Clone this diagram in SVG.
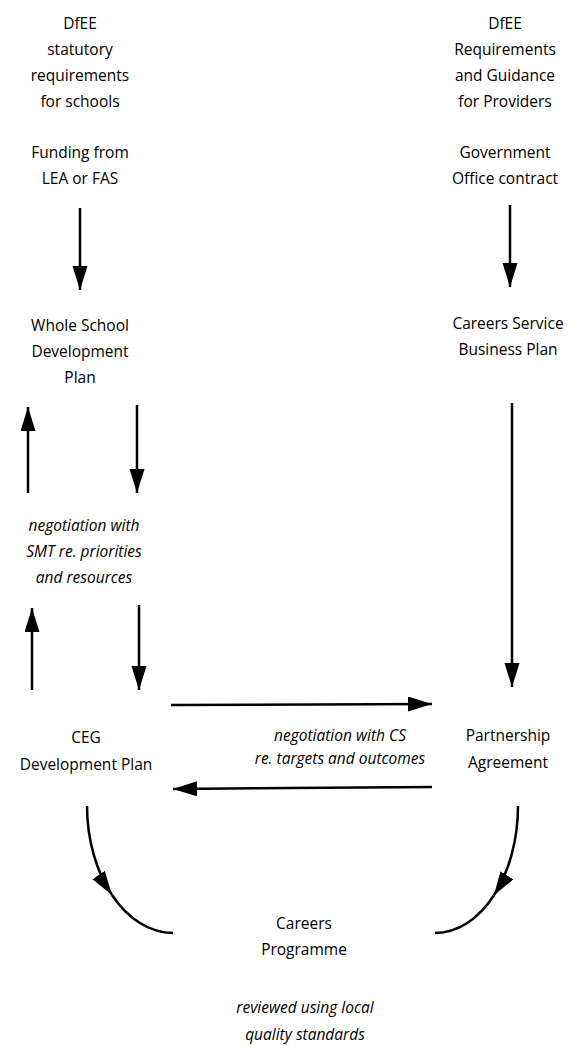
<svg xmlns="http://www.w3.org/2000/svg" width="574" height="1045" viewBox="0 0 574 1045">
<defs>
<marker id="ah" markerUnits="userSpaceOnUse" markerWidth="26" markerHeight="16" refX="24" refY="7.5" orient="auto">
<path d="M0,0 L24,7.5 L0,15 z" fill="#000"/>
</marker>
<style>
text{font-family:"Open Sans","Noto Sans","DejaVu Sans",sans-serif;font-size:15.5px;fill:#000;text-anchor:middle}
.i{font-style:italic}
.c{fill:none;stroke:#000;stroke-width:2.5}
.a{marker-end:url(#ah)}
</style>
</defs>
<rect width="574" height="1045" fill="#fff"/>
<g id="dfee-schools">
<text x="80" y="29">DfEE</text>
<text x="80" y="55">statutory</text>
<text x="80" y="81">requirements</text>
<text x="80" y="107">for schools</text>
</g>
<g id="funding">
<text x="80" y="158">Funding from</text>
<text x="80" y="184">LEA or FAS</text>
</g>
<g id="dfee-providers">
<text x="505" y="29">DfEE</text>
<text x="505" y="55">Requirements</text>
<text x="505" y="81">and Guidance</text>
<text x="505" y="107">for Providers</text>
</g>
<g id="government">
<text x="505" y="158">Government</text>
<text x="505" y="184">Office contract</text>
</g>
<g id="whole-school">
<text x="80" y="331">Whole School</text>
<text x="80" y="357">Development</text>
<text x="80" y="383">Plan</text>
</g>
<g id="cs-business">
<text x="508" y="329">Careers Service</text>
<text x="508" y="355">Business Plan</text>
</g>
<g id="smt-negotiation">
<text class="i" x="84" y="531">negotiation with</text>
<text class="i" x="84" y="557">SMT re. priorities</text>
<text class="i" x="84" y="583">and resources</text>
</g>
<g id="ceg">
<text x="86" y="743">CEG</text>
<text x="86" y="770">Development Plan</text>
</g>
<g id="cs-negotiation">
<text class="i" x="340" y="741">negotiation with CS</text>
<text class="i" x="340" y="764">re. targets and outcomes</text>
</g>
<g id="partnership">
<text x="508" y="741">Partnership</text>
<text x="508" y="768">Agreement</text>
</g>
<g id="careers-programme">
<text x="304" y="929">Careers</text>
<text x="304" y="955">Programme</text>
</g>
<g id="review">
<text class="i" x="305" y="1013">reviewed using local</text>
<text class="i" x="305" y="1040">quality standards</text>
</g>
<g id="connectors">
<path class="c a" d="M80,208 L80,290"/>
<path class="c a" d="M510,205 L510,287"/>
<path class="c a" d="M28,493 L28,407"/>
<path class="c a" d="M137,405 L137,493"/>
<path class="c a" d="M32,690 L32,608"/>
<path class="c a" d="M139,605 L139,690"/>
<path class="c a" d="M512,403 L512,687"/>
<path class="c a" d="M171,705 L432,704"/>
<path class="c a" d="M432,787 L173,789"/>
<path class="c a" d="M87,806 A86,127 0 0 0 112,895"/>
<path class="c" d="M112,895 A86,127 0 0 0 173,933"/>
<path class="c a" d="M518,806 A83,127 0 0 1 493.8,895.5"/>
<path class="c" d="M493.8,895.5 A83,127 0 0 1 435,933"/>
</g>
</svg>
